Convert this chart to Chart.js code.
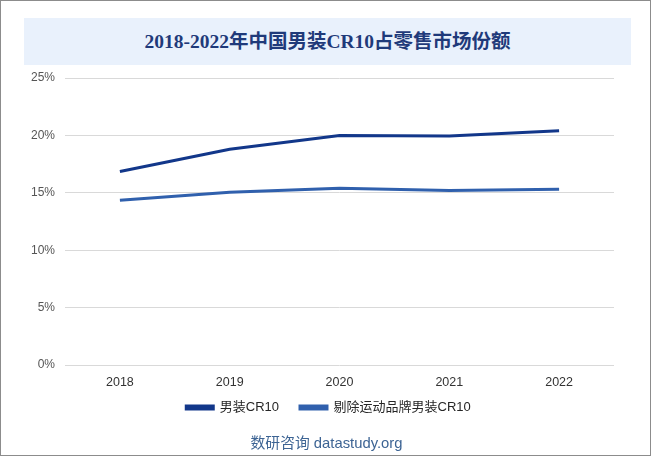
<!DOCTYPE html>
<html><head><meta charset="utf-8">
<script src="https://cdn.jsdelivr.net/npm/chart.js@4"></script>
<style>
html,body{margin:0;padding:0;background:#fff;}
#wrap{position:relative;width:651px;height:456px;box-sizing:border-box;border:1px solid #8c8c8c;overflow:hidden;}
#title{position:absolute;left:23px;top:17px;width:607px;height:47px;background:#e9f1fc;color:#1f3a7a;
font-family:"Liberation Serif","Noto Sans CJK SC",serif;font-weight:bold;font-size:19.5px;line-height:47px;text-align:center;}
#src{position:absolute;left:0;width:651px;top:430px;text-align:center;color:#3d6494;font-family:"Liberation Sans","Noto Sans CJK SC",sans-serif;font-size:14.8px;}
canvas{position:absolute;left:0;top:0;}
</style></head>
<body><div id="wrap">
<div id="title">2018-2022年中国男装CR10占零售市场份额</div>
<canvas id="c" width="649" height="454"></canvas>
<div id="src">数研咨询 datastudy.org</div>
</div>
<script>
const categories = ["2018","2019","2020","2021","2022"];
const seriesNames = ["男装CR10","剔除运动品牌男装CR10"];
const menswearCR10 = [16.85, 18.8, 20.0, 19.95, 20.4];
const exSportsCR10 = [14.35, 15.05, 15.4, 15.2, 15.3];
const yTicks = [0,5,10,15,20,25];

const fontFam = '"Liberation Sans","Noto Sans CJK SC",sans-serif';
new Chart(document.getElementById('c'), {
  type: 'line',
  data: {
    labels: categories,
    datasets: [
      {label: seriesNames[0], data: menswearCR10, borderColor:'#12378a', backgroundColor:'#12378a', borderWidth:3, pointRadius:0, tension:0},
      {label: seriesNames[1], data: exSportsCR10, borderColor:'#3060ad', backgroundColor:'#3060ad', borderWidth:3, pointRadius:0, tension:0}
    ]
  },
  options: {
    animation:false, responsive:false,
    layout:{padding:{top:77,left:42,right:36,bottom:31}},
    plugins:{
      legend:{position:'bottom', labels:{boxWidth:27,boxHeight:3,padding:21,color:'#262626',font:{family:fontFam,size:13}}},
      tooltip:{enabled:false}
    },
    scales:{
      x:{offset:true, grid:{display:false,drawTicks:false}, border:{display:false},
         ticks:{color:'#333',font:{family:fontFam,size:12.5},padding:10},
         afterFit:(s)=>{s.height-=20; s._computeLabelArea=()=>undefined;}},
      y:{min:0,max:25, afterBuildTicks:(s)=>{s.ticks=yTicks.map(v=>({value:v}));},
         grid:{color:'#d9d9d9',drawTicks:false}, border:{display:false},
         ticks:{color:'#555',font:{family:fontFam,size:12},padding:10,callback:v=>v+'%'},
         afterFit:(s)=>{s.width=22; s._computeLabelArea=()=>undefined;}}
    }
  }
});
</script>
</body></html>
